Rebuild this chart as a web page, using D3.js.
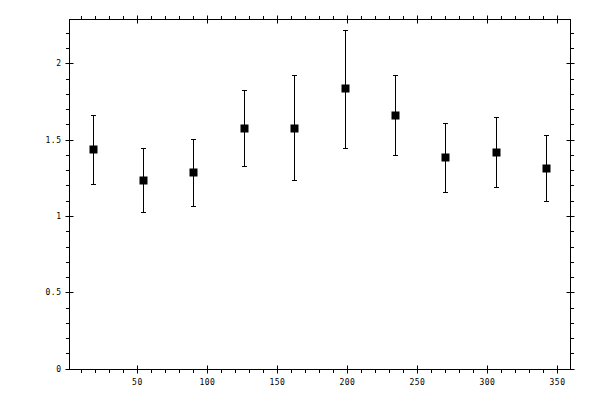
<!DOCTYPE html>
<html>
<head>
<meta charset="utf-8">
<script src="https://cdn.jsdelivr.net/npm/d3@7"></script>
<style>
  body { margin: 0; background: #fff; }
  svg text { font-family: "DejaVu Sans Mono", monospace; font-size: 8px; fill: #000; letter-spacing: 0.5px; }
</style>
</head>
<body>
<svg id="chart" width="600" height="400"></svg>
<script>
const xValues = [18, 54, 90, 126, 162, 198, 234, 270, 306, 342];
const yValues = [1.436, 1.233, 1.286, 1.574, 1.580, 1.836, 1.665, 1.384, 1.417, 1.312];
const yUpper = [1.659, 1.447, 1.502, 1.827, 1.921, 2.220, 1.927, 1.610, 1.646, 1.528];
const yLower = [1.207, 1.024, 1.063, 1.325, 1.233, 1.449, 1.403, 1.155, 1.187, 1.096];
const xTicks = [50, 100, 150, 200, 250, 300, 350];
const yTicks = [0, 0.5, 1, 1.5, 2];
const yTickLabels = ["0", "0.5", "1", "1.5", "2"];

const svg = d3.select("#chart");
const frame = { left: 69.5, right: 570.5, top: 19.5, bottom: 369.5 };

const x = d3.scaleLinear().domain([1.5, 359.3]).range([frame.left, frame.right]);
const y = d3.scaleLinear().domain([-0.006, 2.288]).range([frame.bottom, frame.top]);

const xMinor = d3.range(10, 360, 10).filter(v => v % 50 !== 0);
const yMinor = d3.range(1, 23).map(v => v / 10).filter(v => Math.round(v * 10) % 5 !== 0);

// frame
svg.append("rect")
    .attr("x", frame.left).attr("y", frame.top)
    .attr("width", frame.right - frame.left).attr("height", frame.bottom - frame.top)
    .style("fill", "none").style("stroke", "#000").style("stroke-width", 1);

const ticks = svg.append("g").style("stroke", "#000").style("stroke-width", 1);

// major ticks cross the frame, minor ticks point outward
xTicks.forEach(v => {
    const px = Math.round(x(v)) + 0.5;
    ticks.append("line").attr("x1", px).attr("x2", px).attr("y1", frame.bottom - 4).attr("y2", frame.bottom + 4);
    ticks.append("line").attr("x1", px).attr("x2", px).attr("y1", frame.top - 4).attr("y2", frame.top + 4);
});
xMinor.forEach(v => {
    const px = Math.round(x(v)) + 0.5;
    ticks.append("line").attr("x1", px).attr("x2", px).attr("y1", frame.bottom).attr("y2", frame.bottom + 3.5);
    ticks.append("line").attr("x1", px).attr("x2", px).attr("y1", frame.top - 3.5).attr("y2", frame.top);
});
yTicks.forEach(v => {
    const py = Math.round(y(v)) + 0.5;
    ticks.append("line").attr("x1", frame.left - 4).attr("x2", frame.left + 4).attr("y1", py).attr("y2", py);
    ticks.append("line").attr("x1", frame.right - 4).attr("x2", frame.right + 4).attr("y1", py).attr("y2", py);
});
yMinor.forEach(v => {
    const py = Math.round(y(v)) + 0.5;
    ticks.append("line").attr("x1", frame.left - 3.5).attr("x2", frame.left).attr("y1", py).attr("y2", py);
    ticks.append("line").attr("x1", frame.right).attr("x2", frame.right + 3.5).attr("y1", py).attr("y2", py);
});

svg.append("g").selectAll("text")
    .data(xTicks)
    .enter().append("text")
    .attr("x", d => x(d))
    .attr("y", frame.bottom + 15)
    .attr("text-anchor", "middle")
    .text(d => d);

svg.append("g").selectAll("text")
    .data(yTicks)
    .enter().append("text")
    .attr("x", frame.left - 8)
    .attr("y", d => y(d) + 3)
    .attr("text-anchor", "end")
    .text((d, i) => yTickLabels[i]);

// error bars
const points = xValues.map((v, i) => ({ x: v, y: yValues[i], hi: yUpper[i], lo: yLower[i] }));
const bars = svg.append("g").style("stroke", "#000").style("stroke-width", 1);

points.forEach(d => {
    const px = Math.round(x(d.x)) + 0.5;
    const hi = Math.round(y(d.hi)) + 0.5;
    const lo = Math.round(y(d.lo)) + 0.5;
    bars.append("line").attr("x1", px).attr("x2", px).attr("y1", hi).attr("y2", lo);
    bars.append("line").attr("x1", px - 2.5).attr("x2", px + 2.5).attr("y1", hi).attr("y2", hi);
    bars.append("line").attr("x1", px - 2.5).attr("x2", px + 2.5).attr("y1", lo).attr("y2", lo);
});

svg.append("g").selectAll("rect")
    .data(points)
    .enter().append("rect")
    .attr("x", d => Math.round(x(d.x)) - 3.5)
    .attr("y", d => Math.round(y(d.y)) - 3.5)
    .attr("width", 8)
    .attr("height", 8)
    .style("fill", "#000");
</script>
</body>
</html>
